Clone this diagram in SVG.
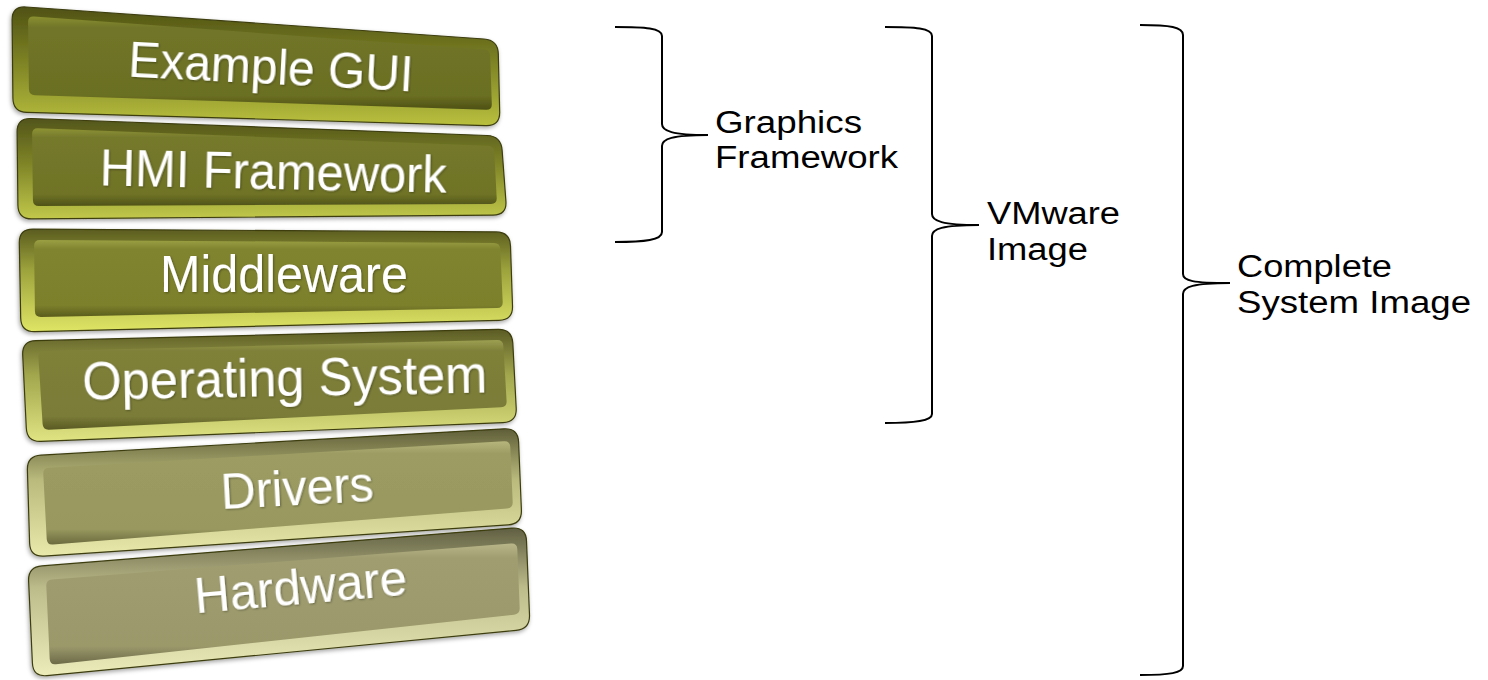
<svg xmlns="http://www.w3.org/2000/svg" width="1488" height="680" viewBox="0 0 1488 680">
  <style>
    .bar-label { font-family: "Liberation Sans", Arial, sans-serif; fill: #ffffff; text-anchor: middle; }
    .side-label { font-family: "Liberation Sans", Arial, sans-serif; font-size: 31px; fill: #000000; }
    .brace { fill: none; stroke: #000000; stroke-width: 2; }
    .rim { stroke: #3c3d10; stroke-width: 1.2; }
  </style>
  <defs>
    <filter id="shadow" x="-5%" y="-10%" width="110%" height="130%">
      <feDropShadow dx="-1" dy="2" stdDeviation="2" flood-color="#000" flood-opacity="0.35"/>
    </filter>
    <filter id="tshadow" x="-5%" y="-20%" width="110%" height="140%">
      <feDropShadow dx="1" dy="1" stdDeviation="1" flood-color="#000" flood-opacity="0.35"/>
    </filter>
    <linearGradient id="rim1" x1="0" y1="0" x2="0" y2="1">
      <stop offset="0" stop-color="#4f5214"/><stop offset="0.45" stop-color="#7c8124"/><stop offset="1" stop-color="#b9c03e"/>
    </linearGradient>
    <linearGradient id="face1" x1="0" y1="0" x2="0" y2="1">
      <stop offset="0" stop-color="#8a8f30"/><stop offset="0.12" stop-color="#70752a"/><stop offset="0.85" stop-color="#6b6f22"/><stop offset="1" stop-color="#4c4f14"/>
    </linearGradient>
    <linearGradient id="rim2" x1="0" y1="0" x2="0" y2="1">
      <stop offset="0" stop-color="#52551a"/><stop offset="0.45" stop-color="#7f8427"/><stop offset="1" stop-color="#c1c84a"/>
    </linearGradient>
    <linearGradient id="face2" x1="0" y1="0" x2="0" y2="1">
      <stop offset="0" stop-color="#8e9335"/><stop offset="0.12" stop-color="#75792c"/><stop offset="0.85" stop-color="#6f7326"/><stop offset="1" stop-color="#4f5217"/>
    </linearGradient>
    <linearGradient id="rim3" x1="0" y1="0" x2="0" y2="1">
      <stop offset="0" stop-color="#5a5c1f"/><stop offset="0.4" stop-color="#9da33c"/><stop offset="1" stop-color="#dfe565"/>
    </linearGradient>
    <linearGradient id="face3" x1="0" y1="0" x2="0" y2="1">
      <stop offset="0" stop-color="#9ba044"/><stop offset="0.12" stop-color="#80842f"/><stop offset="0.85" stop-color="#7c802c"/><stop offset="1" stop-color="#5a5c1c"/>
    </linearGradient>
    <linearGradient id="rim4" x1="0" y1="0" x2="0" y2="1">
      <stop offset="0" stop-color="#5b5c25"/><stop offset="0.4" stop-color="#a1a54c"/><stop offset="1" stop-color="#e0e482"/>
    </linearGradient>
    <linearGradient id="face4" x1="0" y1="0" x2="0" y2="1">
      <stop offset="0" stop-color="#9c9f52"/><stop offset="0.12" stop-color="#7f8139"/><stop offset="0.85" stop-color="#7a7c37"/><stop offset="1" stop-color="#595a24"/>
    </linearGradient>
    <linearGradient id="rim5" x1="0" y1="0" x2="0" y2="1">
      <stop offset="0" stop-color="#5f5e38"/><stop offset="0.4" stop-color="#b9ba7c"/><stop offset="1" stop-color="#e9e9ab"/>
    </linearGradient>
    <linearGradient id="face5" x1="0" y1="0" x2="0" y2="1">
      <stop offset="0" stop-color="#b6b67c"/><stop offset="0.12" stop-color="#9c9c63"/><stop offset="0.85" stop-color="#98985f"/><stop offset="1" stop-color="#6a6a3e"/>
    </linearGradient>
    <linearGradient id="rim6" x1="0" y1="0" x2="0" y2="1">
      <stop offset="0" stop-color="#605f42"/><stop offset="0.4" stop-color="#bcbb8a"/><stop offset="1" stop-color="#ececbb"/>
    </linearGradient>
    <linearGradient id="face6" x1="0" y1="0" x2="0" y2="1">
      <stop offset="0" stop-color="#b9b78a"/><stop offset="0.12" stop-color="#a09e70"/><stop offset="0.85" stop-color="#9b996b"/><stop offset="1" stop-color="#6c6a48"/>
    </linearGradient>
  </defs>

  <rect width="1488" height="680" fill="#ffffff"/>

  <g id="bar-example-gui" filter="url(#shadow)">
    <path class="rim" fill="url(#rim1)" d="M26,7 L484,39 Q498,40 498.3,54 L499.7,112 Q500,126 486,125.6 L27,112.4 Q13,112 12.9,98 L12.1,20 Q12,6 26,7 Z"/>
    <path fill="url(#face1)" d="M34,16.4 L484,49.6 Q490,50 490.2,56 L491.8,104 Q492,110 486,109.8 L35,95.2 Q29,95 28.9,89 L28.1,22 Q28,16 34,16.4 Z"/>
    <text class="bar-label" font-size="50" textLength="285" lengthAdjust="spacingAndGlyphs" transform="translate(270,84) rotate(3)" filter="url(#tshadow)">Example GUI</text>
  </g>

  <g id="bar-hmi-framework" filter="url(#shadow)">
    <path class="rim" fill="url(#rim2)" d="M31,118.5 L487,135.5 Q501,136 502.1,150 L505.9,201 Q507,215 493,215.1 L32,218.9 Q18,219 17.9,205 L17.1,132 Q17,118 31,118.5 Z"/>
    <path fill="url(#face2)" d="M38,128.2 L488,145.8 Q494,146 494.3,152 L496.7,198 Q497,204 491,204 L39,206 Q33,206 32.9,200 L32.1,134 Q32,128 38,128.2 Z"/>
    <text class="bar-label" font-size="52" textLength="347" lengthAdjust="spacingAndGlyphs" transform="translate(273,189) rotate(1.2)" filter="url(#tshadow)">HMI Framework</text>
  </g>

  <g id="bar-middleware" filter="url(#shadow)">
    <path class="rim" fill="url(#rim3)" d="M33,229.1 L496,231.9 Q510,232 510.5,246 L512.5,306 Q513,320 499,320.3 L35,331.7 Q21,332 20.7,318 L19.3,243 Q19,229 33,229.1 Z"/>
    <path fill="url(#face3)" d="M40,240 L494,243 Q500,243 500.3,249 L502.7,302 Q503,308 497,308.1 L41,316.9 Q35,317 34.9,311 L34.1,246 Q34,240 40,240 Z"/>
    <text class="bar-label" font-size="52" textLength="248" lengthAdjust="spacingAndGlyphs" transform="translate(284,292)" filter="url(#tshadow)">Middleware</text>
  </g>

  <g id="bar-operating-system" filter="url(#shadow)">
    <path class="rim" fill="url(#rim4)" d="M36,340.7 L498,329.3 Q512,329 512.8,343 L516.2,408 Q517,422 503,422.6 L41,441.4 Q27,442 26.3,428 L22.7,355 Q22,341 36,340.7 Z"/>
    <path fill="url(#face4)" d="M44,350.9 L497,340.1 Q503,340 503.4,346 L506.6,401 Q507,407 501,407.3 L49,429.7 Q43,430 42.6,424 L38.4,357 Q38,351 44,350.9 Z"/>
    <text class="bar-label" font-size="54" textLength="405" lengthAdjust="spacingAndGlyphs" transform="translate(285,396) rotate(-1)" filter="url(#tshadow)">Operating System</text>
  </g>

  <g id="bar-drivers" filter="url(#shadow)">
    <path class="rim" fill="url(#rim5)" d="M41,455.2 L504,428.8 Q518,428 518.6,442 L521.4,510 Q522,524 508,524.9 L44,556.1 Q30,557 29.6,543 L27.4,470 Q27,456 41,455.2 Z"/>
    <path fill="url(#face5)" d="M49,467.7 L504,441.3 Q510,441 510.3,447 L512.7,502 Q513,508 507,508.5 L53,544.5 Q47,545 46.7,539 L43.3,474 Q43,468 49,467.7 Z"/>
    <text class="bar-label" font-size="50" textLength="153" lengthAdjust="spacingAndGlyphs" transform="translate(298,505) rotate(-3)" filter="url(#tshadow)">Drivers</text>
  </g>

  <g id="bar-hardware" filter="url(#shadow)">
    <path class="rim" fill="url(#rim6)" d="M42,565.9 L512,528.1 Q526,527 526.5,541 L529.5,615 Q530,629 516,630.4 L47,675.6 Q33,677 32.4,663 L28.6,581 Q28,567 42,565.9 Z"/>
    <path fill="url(#face6)" d="M52,579.5 L511,543.5 Q517,543 517.3,549 L519.7,608 Q520,614 514,614.7 L56,664.3 Q50,665 49.7,659 L46.3,586 Q46,580 52,579.5 Z"/>
    <text class="bar-label" font-size="50" textLength="213" lengthAdjust="spacingAndGlyphs" transform="translate(302,604) rotate(-5)" filter="url(#tshadow)">Hardware</text>
  </g>

  <g id="connectors">
    <path class="brace" d="M615,27 C645,27 662,28 662,36 L662,124 C662,131 672,135 708,135 C672,135 662,139 662,146 L662,232 C662,240 645,242 615,242"/>
    <path class="brace" d="M885,27 C915,27 932,28 932,36 L932,214 C932,221 942,225 979,225 C942,225 932,229 932,236 L932,414 C932,421 915,423 885,423"/>
    <path class="brace" d="M1140,25 C1170,25 1183,27 1183,35 L1183,274 C1183,281 1193,283 1230,283 C1193,283 1183,287 1183,294 L1183,666 C1183,673 1170,675 1140,675"/>
  </g>

  <g id="label-graphics-framework">
    <text class="side-label" x="715" y="133" textLength="147" lengthAdjust="spacingAndGlyphs">Graphics</text>
    <text class="side-label" x="715" y="168" textLength="183" lengthAdjust="spacingAndGlyphs">Framework</text>
  </g>
  <g id="label-vmware-image">
    <text class="side-label" x="987" y="224" textLength="133" lengthAdjust="spacingAndGlyphs">VMware</text>
    <text class="side-label" x="987" y="260" textLength="101" lengthAdjust="spacingAndGlyphs">Image</text>
  </g>
  <g id="label-complete-system-image">
    <text class="side-label" x="1237" y="277" textLength="155" lengthAdjust="spacingAndGlyphs">Complete</text>
    <text class="side-label" x="1237" y="313" textLength="234" lengthAdjust="spacingAndGlyphs">System Image</text>
  </g>
</svg>
